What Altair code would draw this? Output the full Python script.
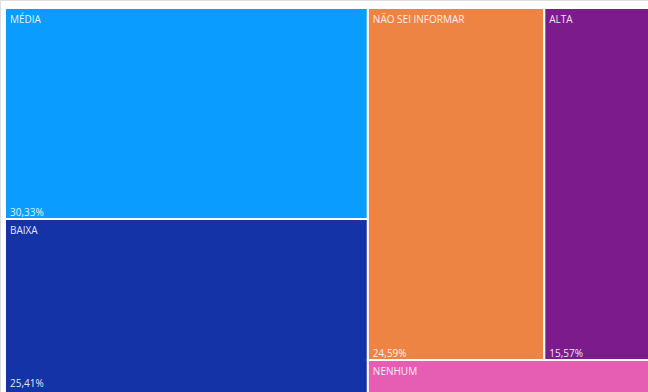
import altair as alt
import pandas as pd

categories = ["MÉDIA", "BAIXA", "NÃO SEI INFORMAR", "ALTA", "NENHUM"]
shares = [30.33, 25.41, 24.59, 15.57, 4.10]
colors = ["#0A9DFF", "#1433A6", "#EE8443", "#7B1B8C", "#E65DB4"]

# Treemap layout (normalized units) derived from the shares
total = sum(shares)
v = dict(zip(categories, shares))
left_w = (v["MÉDIA"] + v["BAIXA"]) / total
rows = []
# left column: MÉDIA above BAIXA
h_media = v["MÉDIA"] / (v["MÉDIA"] + v["BAIXA"])
rows.append(("MÉDIA", 0, left_w, 0, h_media))
rows.append(("BAIXA", 0, left_w, h_media, 1))
# right column: row [NÃO SEI, ALTA] above NENHUM
right_total = v["NÃO SEI INFORMAR"] + v["ALTA"] + v["NENHUM"]
top_h = (v["NÃO SEI INFORMAR"] + v["ALTA"]) / right_total
split = left_w + (1 - left_w) * v["NÃO SEI INFORMAR"] / (v["NÃO SEI INFORMAR"] + v["ALTA"])
rows.append(("NÃO SEI INFORMAR", left_w, split, 0, top_h))
rows.append(("ALTA", split, 1, 0, top_h))
rows.append(("NENHUM", left_w, 1, top_h, 1))

df = pd.DataFrame(rows, columns=["cat", "x0", "x1", "y0", "y1"])
df["pct"] = df["cat"].map(lambda c: f"{v[c]:.2f}".replace(".", ",") + "%")
df["h"] = df["y1"] - df["y0"]

y_lo, y_hi = 8, 396
visible_bottom = (392 - 2 - y_lo) / (y_hi - y_lo)  # keep bottom labels inside the window
df["ly"] = df["y1"].clip(upper=visible_bottom)

xs = alt.Scale(domain=[0, 1], range=[5, 656])
ys = alt.Scale(domain=[0, 1], range=[y_lo, y_hi])

base = alt.Chart(df)
rects = base.mark_rect(stroke="white", strokeWidth=2, clip=True).encode(
    x=alt.X("x0:Q", scale=xs, axis=None),
    x2="x1:Q",
    y=alt.Y("y0:Q", scale=ys, axis=None),
    y2="y1:Q",
    color=alt.Color("cat:N", scale=alt.Scale(domain=categories, range=colors), legend=None),
)
names = base.mark_text(
    align="left", baseline="top", dx=5, dy=7, color="white", opacity=0.88,
    font="Open Sans", fontSize=10, clip=True,
).encode(x=alt.X("x0:Q", scale=xs), y=alt.Y("y0:Q", scale=ys), text="cat:N")
pcts = base.transform_filter("datum.h > 0.12").mark_text(
    align="left", baseline="bottom", dx=5, dy=-1, color="white", opacity=0.88,
    font="Open Sans", fontSize=10, clip=True,
).encode(x=alt.X("x0:Q", scale=xs), y=alt.Y("ly:Q", scale=ys), text="pct:N")

chart = (rects + names + pcts).properties(
    width=648, height=392, padding=0, autosize=alt.AutoSizeParams(type="none")
).configure_view(stroke=None).configure(background="white")

chart.save("out.html", embed_options={"renderer": "svg", "actions": False})
